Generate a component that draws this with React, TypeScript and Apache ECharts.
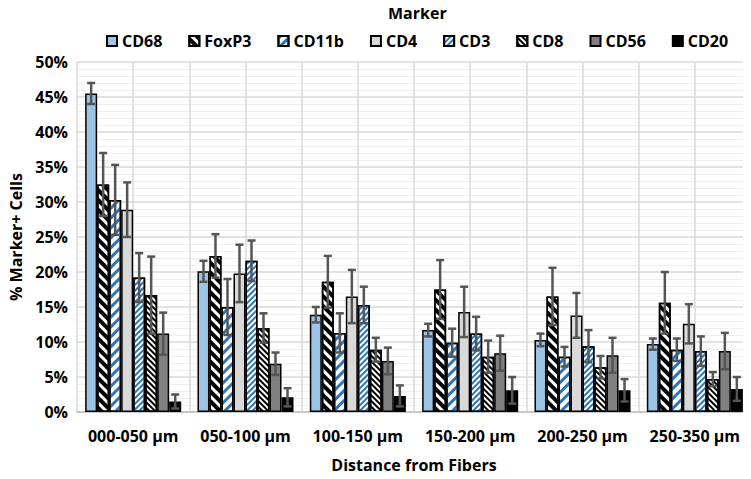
import React, { useEffect, useRef } from "react";
import * as echarts from "echarts";

const categories = ["000-050 µm", "050-100 µm", "100-150 µm", "150-200 µm", "200-250 µm", "250-350 µm"];
const markers = ["CD68", "FoxP3", "CD11b", "CD4", "CD3", "CD8", "CD56", "CD20"];

const cd68 = [45.5, 20.1, 13.9, 11.7, 10.3, 9.7];
const foxp3 = [32.5, 22.3, 18.6, 17.5, 16.5, 15.6];
const cd11b = [30.3, 15.0, 11.3, 9.9, 7.9, 8.9];
const cd4 = [28.9, 19.8, 16.5, 14.3, 13.8, 12.6];
const cd3 = [19.2, 21.6, 15.3, 11.2, 9.4, 8.7];
const cd8 = [16.7, 12.0, 8.9, 7.9, 6.4, 4.7];
const cd56 = [11.2, 6.9, 7.3, 8.4, 8.1, 8.7];
const cd20 = [1.5, 2.1, 2.3, 3.1, 3.1, 3.3];

const cd68Err = [1.5, 1.5, 1.1, 0.9, 0.9, 0.8];
const foxp3Err = [4.5, 3.1, 3.7, 4.2, 4.1, 4.4];
const cd11bErr = [5.0, 4.0, 2.8, 2.0, 1.4, 1.6];
const cd4Err = [3.9, 4.1, 3.8, 3.6, 3.2, 2.8];
const cd3Err = [3.5, 2.9, 2.6, 2.4, 2.3, 2.1];
const cd8Err = [5.5, 2.1, 1.7, 2.3, 1.6, 1.0];
const cd56Err = [3.0, 1.6, 1.9, 2.5, 2.5, 2.6];
const cd20Err = [1.0, 1.3, 1.5, 1.9, 1.6, 1.7];

const yTicks = [0, 5, 10, 15, 20, 25, 30, 35, 40, 45, 50];

const values = [cd68, foxp3, cd11b, cd4, cd3, cd8, cd56, cd20];
const errors = [cd68Err, foxp3Err, cd11bErr, cd4Err, cd3Err, cd8Err, cd56Err, cd20Err];

const FONT = "'Open Sans', 'Noto Sans', sans-serif";
const GAP_RATIO = 0.145;

const styles: any[] = [
  { color: "#9DC3E6" },
  { color: "#FFFFFF", decal: { symbol: "rect", symbolSize: 1, color: "#000000", dashArrayX: [1, 0], dashArrayY: [3.5, 3], rotation: Math.PI / 4 } },
  { color: "#FFFFFF", decal: { symbol: "rect", symbolSize: 1, color: "#2E75B6", dashArrayX: [1, 0], dashArrayY: [2.5, 4], rotation: -Math.PI / 4 } },
  { color: "#D9D9D9" },
  { color: "#FFFFFF", decal: { symbol: "rect", symbolSize: 1, color: "#2E75B6", dashArrayX: [1, 0], dashArrayY: [1.5, 1.5], rotation: -Math.PI / 4 } },
  { color: "#FFFFFF", decal: { symbol: "rect", symbolSize: 1, color: "#000000", dashArrayX: [1, 0], dashArrayY: [1.5, 1.5], rotation: Math.PI / 4 } },
  { color: "#808080" },
  { color: "#000000" },
];

export default function App() {
  const ref = useRef<HTMLDivElement>(null);
  useEffect(() => {
    if (!ref.current) return;
    const chart = echarts.init(ref.current, undefined, { renderer: "svg" });
    const errData: any[] = [];
    values.forEach((vals, s) => {
      vals.forEach((v, c) => {
        errData.push([c, s, v - errors[s][c], v + errors[s][c]]);
      });
    });
    const barSeries = markers.map((m, i) => ({
      name: m,
      type: "bar",
      data: values[i],
      barGap: "0%",
      barCategoryGap: GAP_RATIO * 100 + "%",
      itemStyle: { ...styles[i], borderColor: "#000000", borderWidth: 1.5 },
      emphasis: { disabled: true },
    }));
    const option: any = {
      animation: false,
      textStyle: { fontFamily: FONT },
      title: {
        text: "Marker",
        left: 383,
        top: 0,
        textStyle: { fontFamily: FONT, fontWeight: "bold", fontSize: 16, color: "#000" },
      },
      legend: {
        data: markers,
        left: 101,
        top: 28,
        itemWidth: 10,
        itemHeight: 10,
        itemGap: 26,
        icon: "rect",
        textStyle: { fontFamily: FONT, fontWeight: "bold", fontSize: 16, color: "#000", lineHeight: 16 },
      },
      grid: { left: 77, right: 0, top: 62, bottom: 67 },
      xAxis: [
        {
          type: "category",
          data: categories,
          axisTick: { show: false },
          axisLine: { lineStyle: { color: "#BFBFBF", width: 1.5 } },
          splitLine: { show: false },
          axisLabel: { fontFamily: FONT, fontWeight: "bold", fontSize: 16, color: "#000", margin: 16, interval: 0 },
          name: "Distance from Fibers",
          nameLocation: "middle",
          nameGap: 45,
          nameTextStyle: { fontFamily: FONT, fontWeight: "bold", fontSize: 16, color: "#000" },
        },
        {
          type: "value",
          min: 0,
          max: 6,
          interval: 0.5,
          position: "top",
          axisLine: { show: false },
          axisTick: { show: false },
          axisLabel: { show: false },
          splitLine: { show: true, lineStyle: { color: "#D9D9D9", width: 1.5 } },
        },
      ],
      yAxis: {
        type: "value",
        min: yTicks[0],
        max: yTicks[yTicks.length - 1],
        interval: 5,
        axisLine: { show: false },
        axisTick: { show: false },
        axisLabel: { formatter: "{value}%", fontFamily: FONT, fontWeight: "bold", fontSize: 16, color: "#000", margin: 9 },
        splitLine: { lineStyle: { color: "#D9D9D9", width: 1.5 } },
        minorTick: { show: false, splitNumber: 5 },
        minorSplitLine: { show: true, lineStyle: { color: "#EFEFEF", width: 1 } },
        name: "% Marker+ Cells",
        nameLocation: "middle",
        nameGap: 48,
        nameTextStyle: { fontFamily: FONT, fontWeight: "bold", fontSize: 16, color: "#000" },
      },
      series: [
        ...barSeries,
        {
          type: "custom",
          name: "err",
          xAxisIndex: 0,
          data: errData,
          encode: { x: 0, y: [2, 3] },
          z: 10,
          silent: true,
          renderItem: (params: any, api: any) => {
            const c = api.value(0);
            const s = api.value(1);
            const lo = api.value(2);
            const hi = api.value(3);
            const cw = api.size([1, 0])[0];
            const bw = (cw * (1 - GAP_RATIO)) / markers.length;
            const cx = api.coord([c, 0])[0] - (bw * markers.length) / 2 + (s + 0.5) * bw;
            const yLo = api.coord([c, lo])[1];
            const yHi = api.coord([c, hi])[1];
            const hw = 4;
            const st = { stroke: "#555555", lineWidth: 2.5 };
            return {
              type: "group",
              children: [
                { type: "line", shape: { x1: cx, y1: yLo, x2: cx, y2: yHi }, style: st },
                { type: "line", shape: { x1: cx - hw, y1: yLo, x2: cx + hw, y2: yLo }, style: st },
                { type: "line", shape: { x1: cx - hw, y1: yHi, x2: cx + hw, y2: yHi }, style: st },
              ],
            };
          },
        },
      ],
    };
    chart.setOption(option);
    return () => chart.dispose();
  }, []);
  return <div ref={ref} style={{ width: 751, height: 479, margin: -8 }} />;
}
